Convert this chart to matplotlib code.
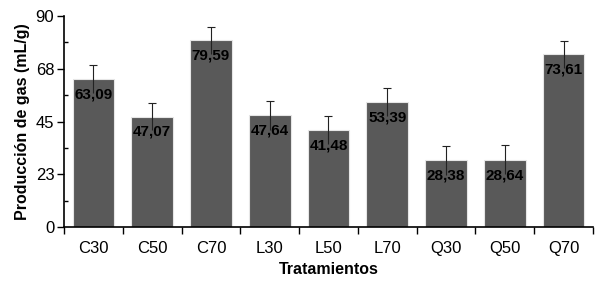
import numpy as np
import matplotlib.pyplot as plt
from matplotlib.ticker import MultipleLocator

plt.rcParams['font.family'] = ['Liberation Sans', 'DejaVu Sans']

tratamientos = ["C30", "C50", "C70", "L30", "L50", "L70", "Q30", "Q50", "Q70"]
produccion = [63.09, 47.07, 79.59, 47.64, 41.48, 53.39, 28.38, 28.64, 73.61]
error = [5.8, 5.8, 5.8, 6.1, 5.9, 5.9, 6.2, 6.2, 5.9]
yticks = [0, 22.5, 45, 67.5, 90]
ytick_labels = ["0", "23", "45", "68", "90"]

fig = plt.figure(figsize=(6.01, 2.90), dpi=100)
ax = fig.add_axes([0.1065, 0.217, 0.880, 0.728])

x = np.arange(len(tratamientos))
ax.bar(x, produccion, width=0.71, color="#595959", edgecolor="#e6e6e6",
       linewidth=0.8, zorder=2)
_, caps, _ = ax.errorbar(x, produccion, yerr=error, fmt="none", ecolor="#222222",
                         elinewidth=0.8, capsize=3, capthick=0.8, zorder=3)
caps[0].set_visible(False)  # lower cap is hidden in the original

for xi, v in zip(x, produccion):
    ax.annotate(f"{v:.2f}".replace(".", ","), (xi, v), xytext=(0, -11),
                textcoords="offset points", ha="center", va="center",
                fontsize=11, fontweight="bold", color="black", zorder=4)

ax.set_xlim(-0.5, len(tratamientos) - 0.5)
ax.set_ylim(0, 90)
ax.set_yticks(yticks)
ax.set_yticklabels(ytick_labels)
ax.yaxis.set_minor_locator(MultipleLocator(11.25))
ax.tick_params(axis="y", which="major", direction="out", length=5, width=1,
               labelsize=12, pad=2)
ax.tick_params(axis="y", which="minor", direction="in", length=3, width=1)

ax.set_xticks(x)
ax.set_xticklabels(tratamientos)
ax.set_xticks(np.arange(len(tratamientos) + 1) - 0.5, minor=True)
ax.tick_params(axis="x", which="major", length=0, labelsize=12, pad=10)
ax.tick_params(axis="x", which="minor", direction="out", length=5, width=1)

ax.spines["top"].set_visible(False)
ax.spines["right"].set_visible(False)
ax.spines["left"].set_linewidth(1.2)
ax.spines["bottom"].set_linewidth(1.2)

ax.set_xlabel("Tratamientos", fontsize=11.5, fontweight="bold", labelpad=4)
ax.set_ylabel("Producción de gas (mL/g)", fontsize=11.5, fontweight="bold",
              labelpad=4)

plt.savefig("out.png", dpi=100)
